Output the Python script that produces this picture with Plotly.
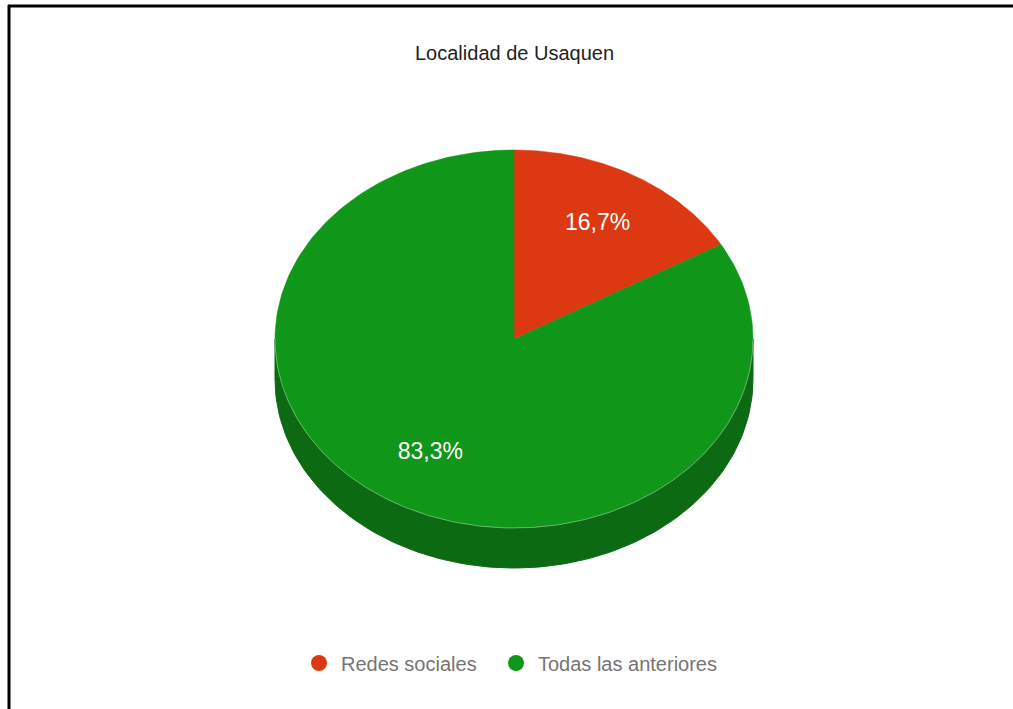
import numpy as np
import plotly.graph_objects as go

# Data
categories = ["Redes sociales", "Todas las anteriores"]
values = [1, 5]
colors = ["#DC3912", "#109618"]
side_colors = ["#9A2810", "#0C6A12"]
title_text = "Localidad de Usaquen"

# Geometry of the tilted pie (pixel units, y grows downward)
W, H = 1013, 709
cx, cy = 514, 339
rx, ry = 239, 189
depth = 40
label_r = 0.70
font_family = "Liberation Sans, Arial, sans-serif"

# Left edge of each legend box (px) and the row's vertical centre
legend_left = [297, 494]
legend_row = 663


def ellipse_pt(deg, dy=0.0):
    a = np.radians(deg)
    return cx + rx * np.sin(a), cy - ry * np.cos(a) + dy


fig = go.Figure()

total = float(sum(values))
start = 0.0
slices = []
for name, v, col, scol in zip(categories, values, colors, side_colors):
    sweep = 360.0 * v / total
    slices.append((name, v, col, scol, start, start + sweep))
    start += sweep

# Side walls: visible part of the rim lies between 90 and 270 degrees
for name, v, col, scol, a0, a1 in slices:
    lo, hi = max(a0, 90.0), min(a1, 270.0)
    if hi <= lo:
        continue
    ang = np.linspace(lo, hi, 120)
    tx, ty = ellipse_pt(ang)
    bx, by = ellipse_pt(ang[::-1], depth)
    xs = np.concatenate([tx, bx, tx[:1]])
    ys = np.concatenate([ty, by, ty[:1]])
    fig.add_trace(go.Scatter(x=xs, y=ys, mode="lines", fill="toself",
                             fillcolor=scol, line=dict(color=scol, width=1),
                             hoverinfo="skip", showlegend=False))

# Top faces
for name, v, col, scol, a0, a1 in slices:
    ang = np.linspace(a0, a1, 200)
    ex, ey = ellipse_pt(ang)
    xs = np.concatenate([[cx], ex, [cx]])
    ys = np.concatenate([[cy], ey, [cy]])
    fig.add_trace(go.Scatter(x=xs, y=ys, mode="lines", fill="toself",
                             fillcolor=col, line=dict(color=col, width=0.5),
                             name=name, hoverinfo="skip", showlegend=False))

# Faint highlight along the front rim
rim = np.linspace(90, 270, 200)
rxs, rys = ellipse_pt(rim)
fig.add_trace(go.Scatter(x=rxs, y=rys, mode="lines",
                         line=dict(color="rgba(255,255,255,0.35)", width=1),
                         hoverinfo="skip", showlegend=False))

# Percentage labels
for name, v, col, scol, a0, a1 in slices:
    mid = (a0 + a1) / 2.0
    a = np.radians(mid)
    lx = cx + rx * label_r * np.sin(a)
    ly = cy - ry * label_r * np.cos(a)
    pct = f"{100.0 * v / total:.1f}".replace(".", ",") + "%"
    fig.add_trace(go.Scatter(x=[lx], y=[ly], mode="text", text=[pct],
                             textfont=dict(family=font_family, size=23, color="white"),
                             hoverinfo="skip", showlegend=False))

# Legend entries, one legend box per category
legend_ids = ["legend", "legend2"]
for name, col, lid in zip(categories, colors, legend_ids):
    fig.add_trace(go.Scatter(x=[None], y=[None], mode="markers", name=name,
                             legend=lid,
                             marker=dict(symbol="circle", size=16, color=col)))

fig.add_annotation(x=cx, y=53, xref="x", yref="y", text=title_text,
                   showarrow=False,
                   font=dict(family=font_family, size=20, color="#222222"))

# Frame lines along the top and left edges
fig.add_shape(type="line", xref="x", yref="y", x0=8, x1=W, y0=6, y1=6,
              line=dict(color="black", width=3))
fig.add_shape(type="line", xref="x", yref="y", x0=9, x1=9, y0=5, y1=H,
              line=dict(color="black", width=3))

legend_style = dict(orientation="h", xanchor="left", yanchor="middle",
                    y=1 - legend_row / H,
                    font=dict(family=font_family, size=20, color="#757575"),
                    itemwidth=34, bgcolor="rgba(0,0,0,0)")

fig.update_layout(
    width=W, height=H,
    margin=dict(l=0, r=0, t=0, b=0),
    paper_bgcolor="white", plot_bgcolor="white",
    xaxis=dict(range=[0, W], visible=False, fixedrange=True),
    yaxis=dict(range=[H, 0], visible=False, fixedrange=True),
    legend=dict(x=legend_left[0] / W, **legend_style),
    legend2=dict(x=legend_left[1] / W, **legend_style),
    font=dict(family=font_family),
)

fig.write_html("out.html")
